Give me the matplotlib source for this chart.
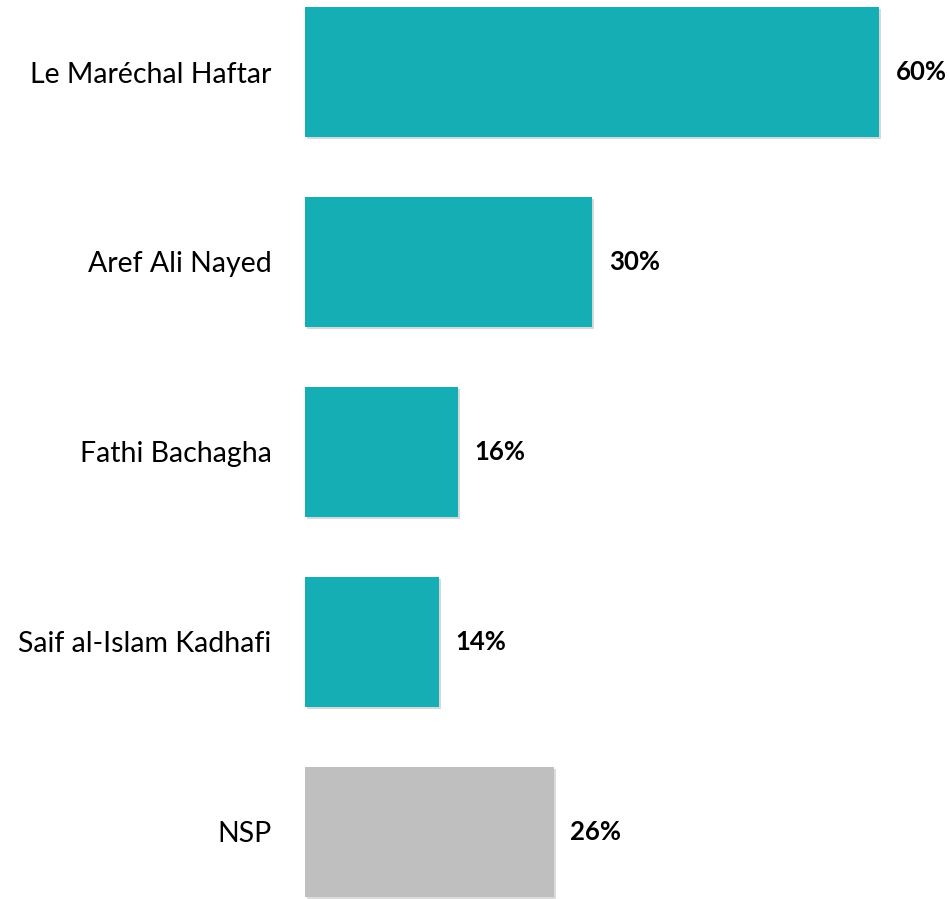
import matplotlib.pyplot as plt
import matplotlib.patheffects as pe

plt.rcParams['font.family'] = ['Lato', 'DejaVu Sans']

categories = ['Le Maréchal Haftar', 'Aref Ali Nayed', 'Fathi Bachagha',
              'Saif al-Islam Kadhafi', 'NSP']
values = [60, 30, 16, 14, 26]
colors = ['#14AEB4', '#14AEB4', '#14AEB4', '#14AEB4', '#BFBFBF']

fig = plt.figure(figsize=(9.5, 8.99), dpi=100)
ax = fig.add_axes([305 / 950, 0, 640 / 950, 1])

pos = list(range(len(categories)))
bars = ax.barh(pos, values, height=0.684, color=colors)
for b in bars:
    b.set_path_effects([pe.SimplePatchShadow(offset=(1.5, -1.5), alpha=0.18), pe.Normal()])

for p, v in zip(pos, values):
    ax.annotate(f'{v}%', (v, p), xytext=(12, 0), textcoords='offset points',
                va='center', ha='left', fontsize=18.5, fontweight='bold')

ax.set_yticks(pos)
ax.set_yticklabels(categories, fontsize=20.5)
ax.tick_params(axis='y', length=0, pad=24)
ax.set_xticks([])
ax.set_xlim(0, 640 / (574 / 60))
ax.set_ylim(4.353, -0.379)
for s in ax.spines.values():
    s.set_visible(False)

fig.savefig('out.png', dpi=100)
